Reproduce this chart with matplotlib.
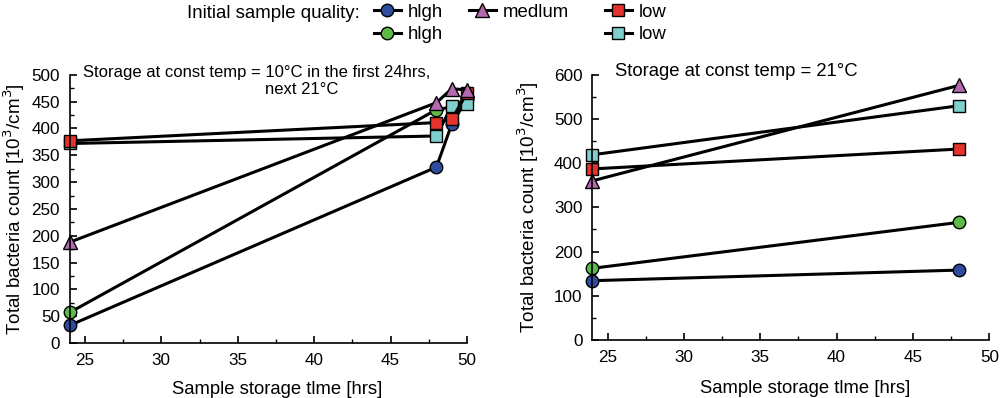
import numpy as np
import matplotlib
matplotlib.use('Agg')
import matplotlib.pyplot as plt
from matplotlib.lines import Line2D
from matplotlib.ticker import MultipleLocator

plt.rcParams['font.family'] = ['Liberation Sans', 'DejaVu Sans']

# data: left panel (10C first 24 hrs, then 21C)
left_x = [24, 48, 49, 50]
left_blue = [33, 328, 408, 455]
left_green = [57, 435, 440, 456]
left_pink = [188, 448, 474, 472]
left_red = [377, 411, 417, 466]
left_cyan = [372, 386, 442, 445]

# right panel (21C constant)
right_x = [24, 48]
right_blue = [134, 158]
right_green = [162, 266]
right_pink = [360, 576]
right_red = [387, 432]
right_cyan = [419, 530]

series_labels = ['hlgh', 'hlgh', 'medlum', 'low', 'low']
colors = ['#2e4c9e', '#5bbb46', '#b468ae', '#e5322c', '#7fcfcf']
markers = ['o', 'o', '^', 's', 's']
msizes = [9, 9, 10, 9, 9]

fig = plt.figure(figsize=(10, 3.98), dpi=100)
ax1 = fig.add_axes([0.0697, 0.138, 0.3973, 0.674])
ax2 = fig.add_axes([0.5923, 0.146, 0.397, 0.666])

left = [left_blue, left_green, left_pink, left_red, left_cyan]
right = [right_blue, right_green, right_pink, right_red, right_cyan]
# draw order so the red sits on cyan and pink on top
order = [0, 1, 4, 3, 2]

for i in order:
    ax1.plot(left_x, left[i], '-', color='black', lw=2.2, marker=markers[i],
             ms=msizes[i], mfc=colors[i], mec='black', mew=1.0, clip_on=False)
    ax2.plot(right_x, right[i], '-', color='black', lw=2.2, marker=markers[i],
             ms=msizes[i], mfc=colors[i], mec='black', mew=1.0, clip_on=False)

ax1.set_xlim(24, 50)
ax1.set_ylim(0, 500)
ax1.yaxis.set_major_locator(MultipleLocator(50))
ax1.yaxis.set_minor_locator(MultipleLocator(25))
ax2.set_xlim(24, 50)
ax2.set_ylim(0, 600)
ax2.yaxis.set_major_locator(MultipleLocator(100))
ax2.yaxis.set_minor_locator(MultipleLocator(50))

for ax in [ax1, ax2]:
    ax.xaxis.set_major_locator(MultipleLocator(5))
    ax.xaxis.set_minor_locator(MultipleLocator(2.5))
    ax.spines['top'].set_visible(False)
    ax.spines['right'].set_visible(False)
    ax.spines['left'].set_linewidth(1.2)
    ax.spines['bottom'].set_linewidth(1.2)
    ax.tick_params(which='major', direction='in', length=5, width=1.2, labelsize=12.3, pad=7)
    ax.tick_params(which='minor', direction='in', length=3, width=1.0)
    ax.set_xlabel('Sample storage tlme [hrs]', fontsize=13.3)
    ax.set_ylabel('Total bacteria count [10$^3$/cm$^3$]', fontsize=13.6)

ax1.yaxis.set_label_coords(-0.108, 0.5)
ax2.yaxis.set_label_coords(-0.129, 0.5)
ax1.xaxis.set_label_coords(0.521, -0.142)
ax2.xaxis.set_label_coords(0.536, -0.151)

fig.text(0.083, 0.819, 'Storage at const temp = 10°C in the first 24hrs,',
         fontsize=12, ha='left', va='center')
fig.text(0.338, 0.776, 'next 21°C', fontsize=12, ha='right', va='center')
fig.text(0.615, 0.82, 'Storage at const temp = 21°C', fontsize=13.3,
         ha='left', va='center')

# legend at top
fig.text(0.187, 0.967, 'Initial sample quality:', fontsize=13.4, ha='left', va='center')

def handle(i):
    return Line2D([], [], color='black', lw=2.2, marker=markers[i], ms=msizes[i],
                  mfc=colors[i], mec='black', mew=1.0)

cols = [([0, 1], 0.370), ([2], 0.465), ([3, 4], 0.601)]
for idx, x0 in cols:
    fig.legend([handle(i) for i in idx], [series_labels[i] for i in idx],
               loc='upper left', bbox_to_anchor=(x0, 1.0), frameon=False,
               fontsize=13.4, handlelength=1.45, handletextpad=0.36,
               labelspacing=0.3, borderaxespad=0, borderpad=0.2)

fig.savefig('out.png', dpi=100)
